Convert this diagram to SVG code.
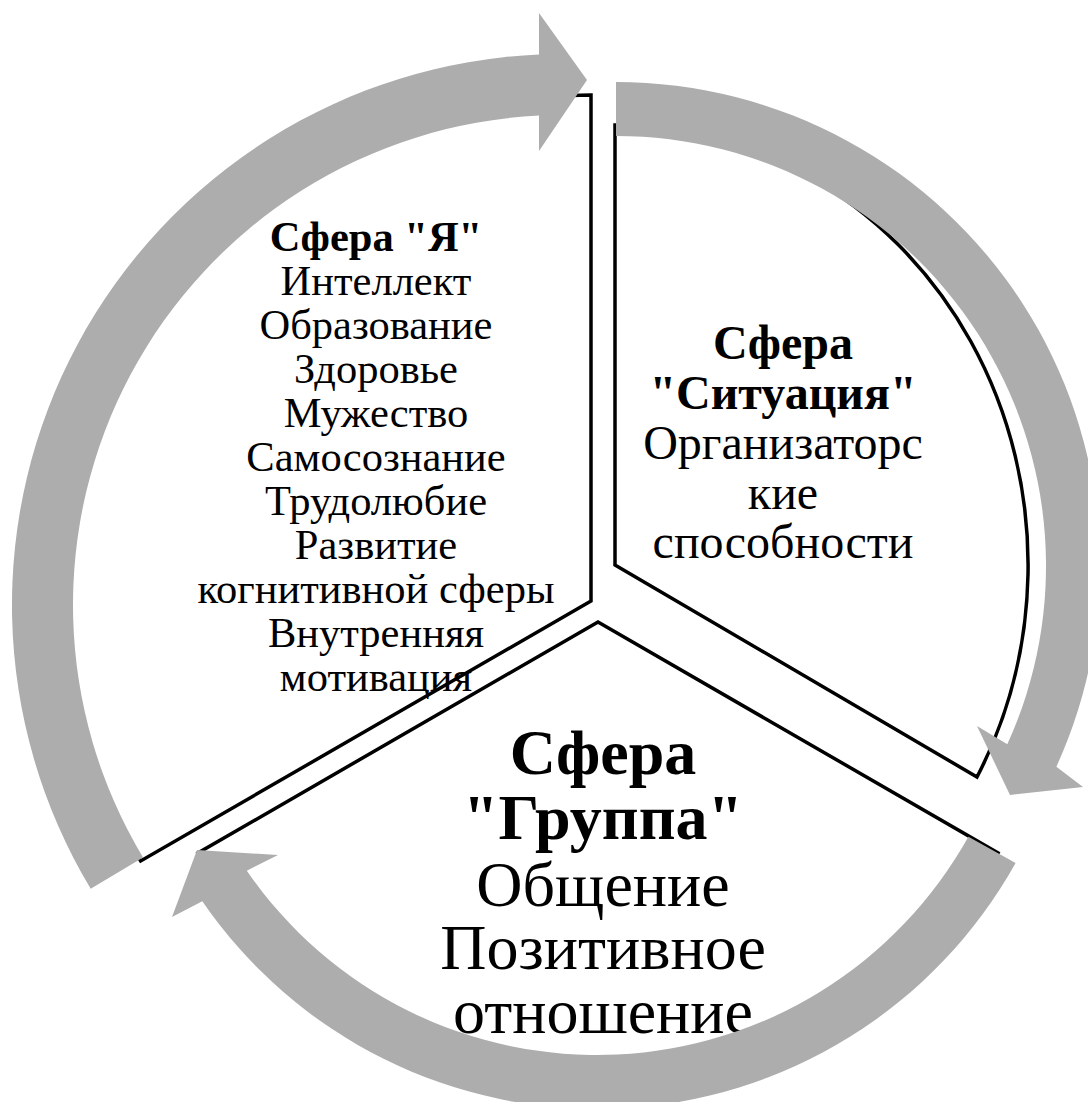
<svg xmlns="http://www.w3.org/2000/svg" width="1088" height="1102" viewBox="0 0 1088 1102">
<style>
.sector{fill:#ffffff;stroke:#000000;stroke-width:3.5;stroke-linejoin:miter}
.arrow{fill:#adadad;stroke:none}
.t{font-family:"Liberation Serif","Times New Roman",serif;fill:#000000;text-anchor:middle}
.b{font-weight:bold}
</style>
<rect width="1088" height="1102" fill="#ffffff"/>
<g id="node-group">
<path class="sector" d="M598,622 L998,853 A462,462 0 0 1 198,853 Z"/>
<text class="t b" x="603" y="774" font-size="64">Сфера</text>
<text class="t b" x="603" y="839" font-size="64">"Группа"</text>
<text class="t" x="603" y="906" font-size="64">Общение</text>
<text class="t" x="603" y="969" font-size="64">Позитивное</text>
<text class="t" x="603" y="1033" font-size="64">отношение</text>
</g>
<g id="node-situation">
<path class="sector" d="M615,565 L615,125 A413,440 0 0 1 977,777 Z"/>
<text class="t b" x="783" y="359" font-size="48">Сфера</text>
<text class="t b" x="783" y="409" font-size="48">"Ситуация"</text>
<text class="t" x="783" y="459" font-size="48">Организаторс</text>
<text class="t" x="783" y="509" font-size="48">кие</text>
<text class="t" x="783" y="558" font-size="48">способности</text>
</g>
<g id="node-self">
<path class="sector" d="M591,601 L591,95 A525,506 0 0 0 140.7,861 Z"/>
<g class="t" font-size="42.5">
<text class="b" x="376" y="251">Сфера "Я"</text>
<text x="376" y="295">Интеллект</text>
<text x="376" y="339">Образование</text>
<text x="376" y="383">Здоровье</text>
<text x="376" y="427">Мужество</text>
<text x="376" y="471">Самосознание</text>
<text x="376" y="515">Трудолюбие</text>
<text x="376" y="559">Развитие</text>
<text x="376" y="603">когнитивной сферы</text>
<text x="376" y="647">Внутренняя</text>
<text x="376" y="691">мотивация</text>
</g>
</g>
<g id="connectors">
<path id="arrow-self-to-situation" class="arrow" d="M90.7,888.8 A551,551 0 0 1 539,54.5 L539,13 L587,80 L539,151 L539,115.6 A490,490 0 0 0 143,857.4 Z"/>
<path id="arrow-situation-to-group" class="arrow" d="M616,82 A484,484 0 0 1 1056.4,766.7 L1083,787 L1010,795 L977,726 L1007.3,744.3 A430,430 0 0 0 616,136 Z"/>
<path id="arrow-group-to-self" class="arrow" d="M1015.6,862.9 A479,479 0 0 1 202.3,901.3 L172,917 L197,850 L278,855 L246.8,870.7 A425,425 0 0 0 968.4,836.7 Z"/>
</g>
</svg>
